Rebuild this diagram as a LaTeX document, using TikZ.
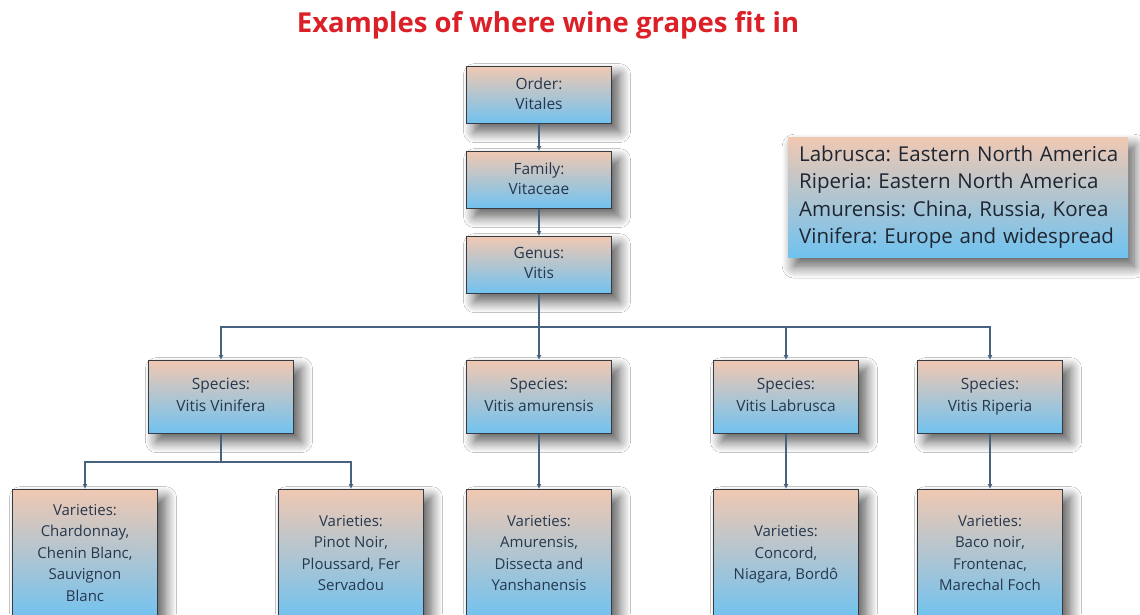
\documentclass[tikz,border=0pt]{standalone}
\usepackage{fontspec}
\setmainfont{Open Sans}
\frenchspacing
\usetikzlibrary{shadows.blur,arrows.meta}
\definecolor{peach}{RGB}{240,200,178}
\definecolor{skyb}{RGB}{112,194,240}
\definecolor{boxline}{RGB}{55,60,66}
\definecolor{conncol}{RGB}{70,98,126}
\definecolor{txt}{RGB}{38,56,78}
\definecolor{legtxt}{RGB}{30,38,50}
\definecolor{titlered}{RGB}{220,32,40}
\newcommand{\dph}{\vphantom{gp}}
\tikzset{
  box/.style={draw=boxline, line width=1.2pt, top color=peach, bottom color=skyb,
    minimum width=145pt, minimum height=57pt, align=center, anchor=north,
    font=\fontsize{15.5}{20}\selectfont, text=txt, inner sep=2pt,
    blur shadow={shadow xshift=8pt, shadow yshift=-8pt, shadow blur steps=14, shadow blur radius=11pt, shadow opacity=65}},
  spbox/.style={box, minimum height=73pt, font=\fontsize{15.5}{22}\selectfont},
  varbox/.style={box, minimum height=130pt, font=\fontsize{15}{21.5}\selectfont},
  conn/.style={draw=conncol, line width=1.3pt},
  arr/.style={conn, -{Latex[length=5pt,width=5pt]}},
}
\begin{document}
\begin{tikzpicture}[x=1pt,y=1pt]
\useasboundingbox (0,0) rectangle (1140,-614);
\clip (0,0) rectangle (1140,-614);
\fill[white] (0,0) rectangle (1140,-614);

\node[font=\fontsize{27.5}{32}\selectfont\bfseries, text=titlered] (title) at (548,-25) {Examples of where wine grapes fit in};

\node[box] (order) at (539,-66) {Order:\\Vitales\dph};
\node[box] (family) at (539,-151) {Family:\\Vitaceae\dph};
\node[box] (genus) at (539,-236) {Genus:\\Vitis\dph};

\node[spbox] (sp1) at (221,-360) {Species:\\Vitis Vinifera\dph};
\node[spbox] (sp2) at (539,-360) {Species:\\Vitis amurensis\dph};
\node[spbox] (sp3) at (786,-360) {Species:\\Vitis Labrusca\dph};
\node[spbox] (sp4) at (990,-360) {Species:\\Vitis Riperia\dph};

\node[varbox] (v1) at (85,-489) {Varieties:\\Chardonnay,\\Chenin Blanc,\\Sauvignon\\Blanc\dph};
\node[varbox] (v2) at (351,-489) {Varieties:\\Pinot Noir,\\Ploussard, Fer\\Servadou\dph};
\node[varbox] (v3) at (539,-489) {Varieties:\\Amurensis,\\Dissecta and\\Yanshanensis\dph};
\node[varbox] (v4) at (786,-489) {Varieties:\\Concord,\\Niagara, Bordô\dph};
\node[varbox] (v5) at (990,-489) {Varieties:\\Baco noir,\\Frontenac,\\Marechal Foch\dph};

\node[anchor=north west, top color=peach, bottom color=skyb, minimum width=340pt, minimum height=120pt,
  align=left, text width=334pt, inner sep=0pt, text=legtxt,
  font=\fontsize{20.5}{27.3}\selectfont,
  blur shadow={shadow xshift=6pt, shadow yshift=-9pt, shadow blur steps=14, shadow blur radius=12pt, shadow opacity=65}]
  (legend) at (788,-137) {\hspace*{8pt}Labrusca: Eastern North America\\\hspace*{8pt}Riperia: Eastern North America\\\hspace*{8pt}Amurensis: China, Russia, Korea\\\hspace*{8pt}Vinifera: Europe and widespread};

\draw[arr] (order.south) -- (family.north);
\draw[arr] (family.south) -- (genus.north);
\coordinate (bus) at (539,-327);
\draw[conn] (genus.south) -- (bus);
\draw[arr] (bus) -| (sp1.north);
\draw[arr] (bus) -- (sp2.north);
\draw[arr] (bus) -| (sp3.north);
\draw[arr] (bus) -| (sp4.north);
\coordinate (bus2) at (221,-462);
\draw[conn] (sp1.south) -- (bus2);
\draw[arr] (bus2) -| (v1.north);
\draw[arr] (bus2) -| (v2.north);
\draw[arr] (sp2.south) -- (v3.north);
\draw[arr] (sp3.south) -- (v4.north);
\draw[arr] (sp4.south) -- (v5.north);
\end{tikzpicture}
\end{document}
